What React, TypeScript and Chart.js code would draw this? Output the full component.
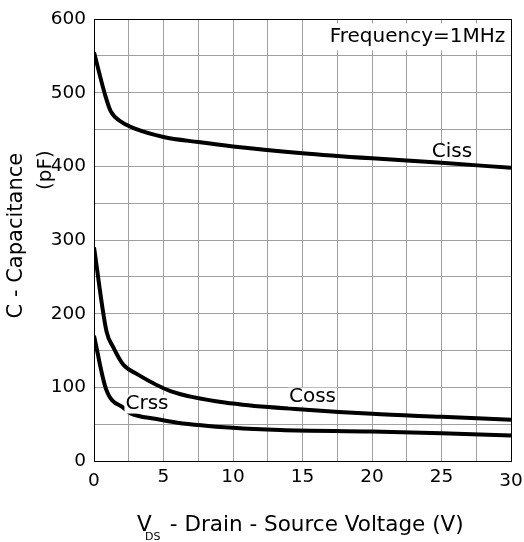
import React, { useEffect, useRef } from 'react';
import { Chart, registerables } from 'chart.js';

Chart.register(...registerables);

const FONT = 'DejaVu Sans';
const GRID = '#a0a0a0';

// Drain-source voltage (V) and capacitance (pF) samples for each curve
const cissV = [0, 0.8, 1.2, 2, 3, 5, 7.5, 10, 15, 20, 25, 30];
const cissC = [555, 497, 475, 460, 451, 440, 433, 427, 418, 411, 405, 398];

const cossV = [0, 0.9, 1.4, 2.1, 3.1, 5.5, 10, 15, 20, 25, 30];
const cossC = [290, 176, 154, 131, 118, 95, 78, 70, 64, 60, 56];

const crssV = [0, 0.86, 2.2, 2.6, 4.5, 6, 10, 13.4, 20, 25, 30];
const crssC = [170, 98, 71, 65, 57, 52, 45, 42, 40, 37.6, 34.5];

// Axis ranges and tick steps
const xRange = [0, 30];
const xStep = 2.5;
const xLabelStep = 5;
const yRange = [0, 600];
const yStep = 50;
const yLabelStep = 100;

// Curve names and the test-condition note, anchored in data units
const curveNames = ['Ciss', 'Coss', 'Crss'];
const curveNameAt = [
  [25.75, 420],
  [15.72, 86.8],
  [3.81, 77.2],
];
const noteText = 'Frequency=1MHz';
const noteAt = [23.27, 576];

const toPoints = (xs: number[], ys: number[]) => xs.map((x, i) => ({ x, y: ys[i] }));

const curve = (label: string, xs: number[], ys: number[]) => ({
  label,
  data: toPoints(xs, ys),
  borderColor: '#000',
  backgroundColor: '#000',
  borderWidth: 4,
  pointRadius: 0,
  cubicInterpolationMode: 'monotone' as const,
  fill: false,
});

const boxedText = (ctx: CanvasRenderingContext2D, text: string, cx: number, cy: number, size: number, padX: number, padY: number) => {
  ctx.font = `${size}px "${FONT}"`;
  const w = ctx.measureText(text).width;
  const h = size * 0.74;
  ctx.fillStyle = '#fff';
  ctx.fillRect(cx - w / 2 - padX, cy - h / 2 - padY, w + padX * 2, h + padY * 2);
  ctx.fillStyle = '#000';
  ctx.textAlign = 'center';
  ctx.textBaseline = 'middle';
  ctx.fillText(text, cx, cy);
};

const annotations = {
  id: 'annotations',
  afterDatasetsDraw(chart: any) {
    const { ctx, scales } = chart;
    const xs = scales.x;
    const ys = scales.y;
    ctx.save();
    curveNames.forEach((name, i) => {
      const [v, c] = curveNameAt[i];
      boxedText(ctx, name, xs.getPixelForValue(v), ys.getPixelForValue(c), 20, 1, i === 0 ? 0 : 2);
    });
    boxedText(ctx, noteText, xs.getPixelForValue(noteAt[0]), ys.getPixelForValue(noteAt[1]), 20, 3, 6);
    ctx.restore();
  },
  afterDraw(chart: any) {
    const { ctx, chartArea } = chart;
    ctx.save();
    ctx.fillStyle = '#000';

    // Y axis title, two rotated lines
    ctx.textAlign = 'center';
    ctx.textBaseline = 'middle';
    ctx.save();
    ctx.translate(chartArea.left - 77, chartArea.top + 216.5);
    ctx.rotate(-Math.PI / 2);
    ctx.font = `21px "${FONT}"`;
    ctx.fillText('C - Capacitance', 0, 0);
    ctx.restore();
    ctx.save();
    ctx.translate(chartArea.left - 48, chartArea.top + 151);
    ctx.rotate(-Math.PI / 2);
    ctx.font = `20px "${FONT}"`;
    ctx.fillText('(pF)', 0, 0);
    ctx.restore();

    // X axis title with subscript
    const base = chartArea.bottom + 70;
    const x0 = chartArea.left + 43;
    ctx.textAlign = 'left';
    ctx.textBaseline = 'alphabetic';
    ctx.font = `21.5px "${FONT}"`;
    ctx.fillText('V', x0, base);
    ctx.font = `11px "${FONT}"`;
    ctx.fillText('DS', x0 + 8, base + 9);
    ctx.font = `21.5px "${FONT}"`;
    ctx.fillText(' - Drain - Source Voltage (V)', x0 + 26, base);
    ctx.restore();
  },
};

export default function App() {
  const ref = useRef<HTMLCanvasElement>(null);

  useEffect(() => {
    const canvas = ref.current;
    if (!canvas) return;
    const chart = new Chart(canvas, {
      type: 'line',
      data: {
        datasets: [
          curve('Ciss', cissV, cissC),
          curve('Coss', cossV, cossC),
          curve('Crss', crssV, crssC),
        ],
      },
      options: {
        responsive: false,
        animation: false,
        layout: { padding: { top: 17, right: 13, left: 0, bottom: 0 } },
        plugins: {
          legend: { display: false },
          tooltip: { enabled: false },
        },
        scales: {
          x: {
            type: 'linear',
            min: xRange[0],
            max: xRange[1],
            afterFit(s: any) {
              s.height = 81;
            },
            border: { display: true, color: '#000', width: 1 },
            grid: {
              color: (c: any) => (c.tick && c.tick.value === xRange[1] ? '#000' : GRID),
              lineWidth: 1,
              drawTicks: false,
            },
            ticks: {
              stepSize: xStep,
              autoSkip: false,
              maxRotation: 0,
              padding: 0,
              color: '#000',
              // end labels sit a little lower than the inner ones
              font: (c: any) => ({
                family: FONT,
                size: 18.5,
                lineHeight: c.tick && (c.tick.value === xRange[0] || c.tick.value === xRange[1]) ? 2.16 : 1.73,
              }),
              callback: (v: any) => (Number(v) % xLabelStep === 0 ? String(v) : ''),
            },
          },
          y: {
            type: 'linear',
            min: yRange[0],
            max: yRange[1],
            afterFit(s: any) {
              s.width = 94;
            },
            border: { display: true, color: '#000', width: 1 },
            grid: {
              color: (c: any) => (c.tick && c.tick.value === yRange[1] ? '#000' : GRID),
              lineWidth: 1,
              drawTicks: false,
            },
            ticks: {
              stepSize: yStep,
              autoSkip: false,
              padding: 8,
              color: '#000',
              font: { family: FONT, size: 18.5 },
              callback: (v: any) => (Number(v) % yLabelStep === 0 ? String(v) : ''),
            },
          },
        },
      } as any,
      plugins: [annotations],
    });
    return () => chart.destroy();
  }, []);

  return (
    <div style={{ position: 'fixed', left: 0, top: 0, width: 524, height: 542, background: '#fff' }}>
      <canvas ref={ref} width={524} height={542} style={{ display: 'block' }} />
    </div>
  );
}
